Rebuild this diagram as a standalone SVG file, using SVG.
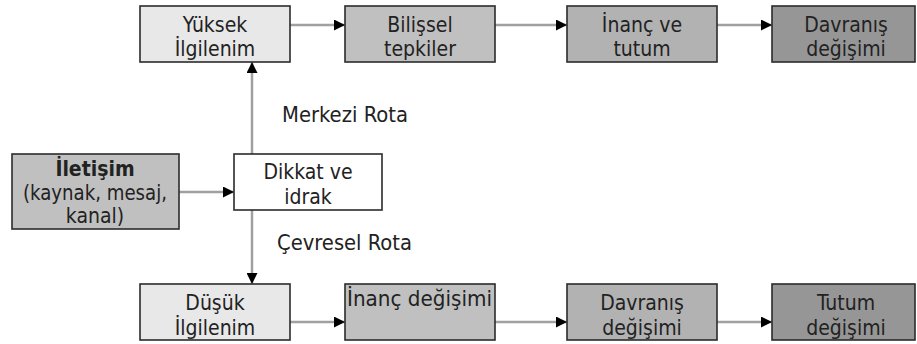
<svg xmlns="http://www.w3.org/2000/svg" width="917" height="344" viewBox="0 0 917 344">
  <style>
    .box { stroke: #2b2b2b; stroke-width: 1.6; }
    .l1 { fill: #e8e8e8; }
    .l2 { fill: #c0c0c0; }
    .l3 { fill: #b2b2b2; }
    .l4 { fill: #969696; }
    .white { fill: #ffffff; }
    text { font-family: "DejaVu Sans Condensed", "DejaVu Sans", sans-serif; font-stretch: condensed; font-size: 21px; fill: #222; }
    .c { text-anchor: middle; }
    .b { font-weight: bold; }
    .conn { stroke: #a0a0a0; stroke-width: 2.5; fill: none; marker-end: url(#head); }
  </style>
  <defs>
    <marker id="head" viewBox="0 0 10 10" refX="10" refY="5" markerWidth="4.4" markerHeight="4.4" markerUnits="strokeWidth" orient="auto">
      <path d="M0,0 L10,5 L0,10 Z" fill="#000"/>
    </marker>
  </defs>

  <g id="connectors">
    <line class="conn" x1="290" y1="25" x2="345" y2="25"/>
    <line class="conn" x1="495" y1="25" x2="567" y2="25"/>
    <line class="conn" x1="717" y1="25" x2="772" y2="25"/>
    <line class="conn" x1="179" y1="192" x2="234" y2="192"/>
    <line class="conn" x1="252" y1="154" x2="252" y2="62"/>
    <line class="conn" x1="252" y1="210" x2="252" y2="284"/>
    <line class="conn" x1="290" y1="322" x2="345" y2="322"/>
    <line class="conn" x1="495" y1="322" x2="567" y2="322"/>
    <line class="conn" x1="717" y1="322" x2="772" y2="322"/>
  </g>

  <g id="route-labels">
    <text x="282" y="122" textLength="126" lengthAdjust="spacingAndGlyphs">Merkezi Rota</text>
    <text x="277" y="250" textLength="135" lengthAdjust="spacingAndGlyphs">Çevresel Rota</text>
  </g>

  <g id="yuksek">
    <rect class="box l1" x="140" y="6" width="150" height="56"/>
    <text class="c" x="215" y="32">Yüksek</text>
    <text class="c" x="215" y="56">İlgilenim</text>
  </g>
  <g id="bilissel">
    <rect class="box l2" x="345" y="6" width="150" height="56"/>
    <text class="c" x="420" y="32">Bilişsel</text>
    <text class="c" x="420" y="56">tepkiler</text>
  </g>
  <g id="inanc-tutum">
    <rect class="box l3" x="567" y="6" width="150" height="56"/>
    <text class="c" x="642" y="32">İnanç ve</text>
    <text class="c" x="642" y="56">tutum</text>
  </g>
  <g id="davranis-ust">
    <rect class="box l4" x="772" y="6" width="143" height="56"/>
    <text class="c" x="846" y="32">Davranış</text>
    <text class="c" x="846" y="56">değişimi</text>
  </g>

  <g id="iletisim">
    <rect class="box l2" x="12" y="154" width="167" height="75"/>
    <text class="c b" x="95" y="176">İletişim</text>
    <text class="c" x="95" y="200" textLength="144" lengthAdjust="spacingAndGlyphs">(kaynak, mesaj,</text>
    <text class="c" x="95" y="223">kanal)</text>
  </g>
  <g id="dikkat">
    <rect class="box white" x="234" y="154" width="148" height="56"/>
    <text class="c" x="308" y="179">Dikkat ve</text>
    <text class="c" x="308" y="204">idrak</text>
  </g>

  <g id="dusuk">
    <rect class="box l1" x="140" y="284" width="150" height="56"/>
    <text class="c" x="215" y="310">Düşük</text>
    <text class="c" x="215" y="335">İlgilenim</text>
  </g>
  <g id="inanc-degisimi">
    <rect class="box l2" x="345" y="284" width="150" height="56"/>
    <text x="347" y="306" textLength="145" lengthAdjust="spacingAndGlyphs">İnanç değişimi</text>
  </g>
  <g id="davranis-alt">
    <rect class="box l3" x="567" y="284" width="150" height="56"/>
    <text class="c" x="642" y="310">Davranış</text>
    <text class="c" x="642" y="335">değişimi</text>
  </g>
  <g id="tutum">
    <rect class="box l4" x="772" y="284" width="143" height="56"/>
    <text class="c" x="846" y="310">Tutum</text>
    <text class="c" x="846" y="335">değişimi</text>
  </g>
</svg>
